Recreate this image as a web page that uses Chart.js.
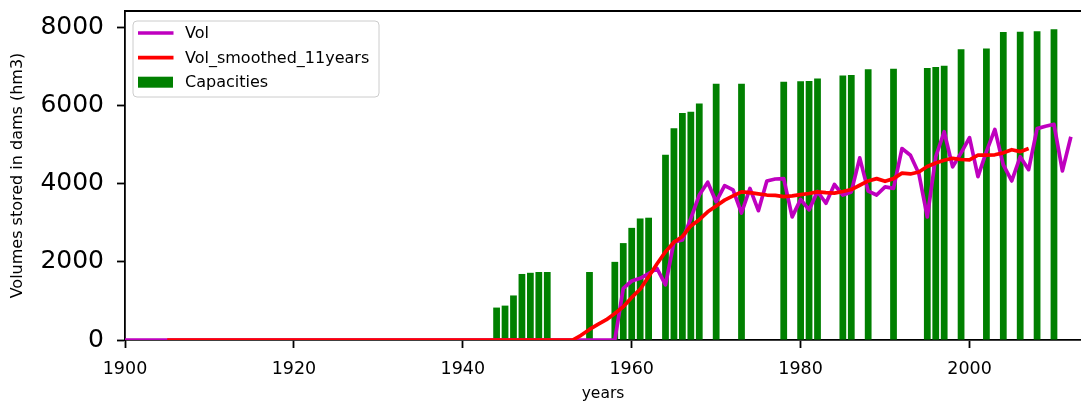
<!DOCTYPE html>
<html>
<head>
<meta charset="utf-8">
<script src="https://cdn.jsdelivr.net/npm/chart.js@4"></script>
<style>
  body { margin: 0; background: #fff; }
  canvas { display: block; }
</style>
</head>
<body>
<canvas id="chart" width="1081" height="403"></canvas>
<script>
// 数据：年份从起始年逐年排列
const volStartYear = 1900;
const volValues = [
    0, 0, 0, 0, 0, 0, 0, 0, 0, 0,
    0, 0, 0, 0, 0, 0, 0, 0, 0, 0,
    0, 0, 0, 0, 0, 0, 0, 0, 0, 0,
    0, 0, 0, 0, 0, 0, 0, 0, 0, 0,
    0, 0, 0, 0, 0, 0, 0, 0, 0, 0,
    0, 0, 0, 0, 0, 0, 0, 0, 0,
    1320, 1510, 1580, 1700, 1830, 1410, 2510, 2560, 3110, 3710,
    4040, 3540, 3950, 3840, 3250, 3880, 3310, 4070, 4120, 4130,
    3150, 3600, 3330, 3800, 3500, 3980, 3710, 3790, 4660, 3810,
    3710, 3920, 3880, 4900, 4730, 4260, 3150, 4690, 5330, 4430,
    4790, 5180, 4180, 4820, 5390, 4480, 4070, 4690, 4360, 5410,
    5470, 5520, 4330, 5200
];

const smoothStartYear = 1905;
const smoothValues = [
    0, 0, 0, 0, 0, 0, 0, 0, 0, 0,
    0, 0, 0, 0, 0, 0, 0, 0, 0, 0,
    0, 0, 0, 0, 0, 0, 0, 0, 0, 0,
    0, 0, 0, 0, 0, 0, 0, 0, 0, 0,
    0, 0, 0, 0, 0, 0, 0, 0, 0,
    120, 270, 400, 520, 680, 850, 1090, 1300, 1620, 1950,
    2260, 2500, 2650, 2920, 3080, 3280, 3430, 3580, 3690, 3790,
    3770, 3740, 3710, 3700, 3670, 3690, 3720, 3750, 3790, 3770,
    3760, 3800, 3850, 3960, 4070, 4130, 4060, 4130, 4270, 4250,
    4300, 4440, 4530, 4600, 4650, 4620, 4610, 4730, 4730, 4740,
    4790, 4870, 4820, 4900
];

const capYears = [1944, 1945, 1946, 1947, 1948, 1949, 1950, 1955, 1958, 1959,
    1960, 1961, 1962, 1964, 1965, 1966, 1967, 1968, 1970, 1973,
    1978, 1980, 1981, 1982, 1985, 1986, 1988, 1991, 1995, 1996,
    1997, 1999, 2002, 2004, 2006, 2008, 2010];
const capValues = [830, 880, 1140, 1690, 1720, 1740, 1740, 1740, 2000, 2480,
    2870, 3110, 3130, 4740, 5420, 5810, 5840, 6050, 6560, 6560,
    6610, 6620, 6630, 6690, 6770, 6780, 6930, 6940, 6960, 6990,
    7020, 7440, 7460, 7880, 7890, 7900, 7950];

const xTicks = [1900, 1920, 1940, 1960, 1980, 2000];
const yTicks = [0, 2000, 4000, 6000, 8000];

const legendItems = [
    { label: 'Vol', color: '#bf00bf', kind: 'line' },
    { label: 'Vol_smoothed_11years', color: '#ff0000', kind: 'line' },
    { label: 'Capacities', color: '#008000', kind: 'box' }
];

const FONT = "'DejaVu Sans', sans-serif";
const LINE_W = 3.7;

// 图例画在绘图区内（左上角），外加顶部边框
const framePlugin = {
    id: 'frame',
    afterDraw(chart) {
        const { ctx, chartArea: a } = chart;
        ctx.save();
        ctx.strokeStyle = '#000';
        ctx.lineWidth = 1.8;
        ctx.beginPath();
        ctx.moveTo(a.left, a.top);
        ctx.lineTo(a.right, a.top);
        ctx.stroke();

        const bx = a.left + 8, by = a.top + 10, bw = 246, bh = 76;
        ctx.beginPath();
        ctx.roundRect(bx, by, bw, bh, 4);
        ctx.fillStyle = 'rgba(255,255,255,0.8)';
        ctx.fill();
        ctx.strokeStyle = '#cccccc';
        ctx.lineWidth = 1;
        ctx.stroke();

        ctx.font = '16px ' + FONT;
        ctx.textBaseline = 'middle';
        ctx.textAlign = 'left';
        legendItems.forEach((it, i) => {
            const cy = by + 12 + i * 24.6;
            if (it.kind === 'line') {
                ctx.strokeStyle = it.color;
                ctx.lineWidth = LINE_W;
                ctx.beginPath();
                ctx.moveTo(bx + 5, cy);
                ctx.lineTo(bx + 40.5, cy);
                ctx.stroke();
            } else {
                ctx.fillStyle = it.color;
                ctx.fillRect(bx + 5, cy - 5.5, 35, 11);
            }
            ctx.fillStyle = '#000';
            ctx.fillText(it.label, bx + 52, cy + 1);
        });
        ctx.restore();
    }
};

const ctx = document.getElementById('chart').getContext('2d');
new Chart(ctx, {
    type: 'bar',
    data: {
        datasets: [
            {
                type: 'line',
                label: 'Vol',
                data: volValues.map((v, i) => ({ x: volStartYear + i, y: v })),
                borderColor: '#bf00bf',
                borderWidth: LINE_W,
                borderJoinStyle: 'round',
                pointRadius: 0,
                tension: 0,
                order: 1
            },
            {
                type: 'line',
                label: 'Vol_smoothed_11years',
                data: smoothValues.map((v, i) => ({ x: smoothStartYear + i, y: v })),
                borderColor: '#ff0000',
                borderWidth: LINE_W,
                borderJoinStyle: 'round',
                pointRadius: 0,
                tension: 0,
                order: 0
            },
            {
                type: 'bar',
                label: 'Capacities',
                data: capYears.map((yr, i) => ({ x: yr, y: capValues[i] })),
                backgroundColor: '#008000',
                borderWidth: 0,
                barPercentage: 0.8,
                categoryPercentage: 1.0,
                order: 2
            }
        ]
    },
    options: {
        responsive: false,
        animation: false,
        devicePixelRatio: 1,
        layout: { padding: { top: 11, right: 0, bottom: 0, left: 0 } },
        plugins: {
            legend: { display: false },
            tooltip: { enabled: false }
        },
        scales: {
            x: {
                type: 'linear',
                min: 1900,
                max: 2013.2,
                offset: false,
                afterFit: s => { s.height = 63; s.paddingLeft = 0; s.paddingRight = 0; },
                afterBuildTicks: s => { s.ticks = xTicks.map(v => ({ value: v })); },
                ticks: {
                    color: '#000',
                    font: { family: FONT, size: 17.5 },
                    padding: 11,
                    maxRotation: 0,
                    callback: v => String(v)
                },
                grid: {
                    display: true,
                    offset: false,
                    drawOnChartArea: false,
                    drawTicks: true,
                    tickLength: 8,
                    tickWidth: 1.8,
                    tickColor: '#000'
                },
                border: { display: true, color: '#000', width: 1.8 },
                title: {
                    display: true,
                    text: 'years',
                    color: '#000',
                    font: { family: FONT, size: 15.5 },
                    padding: { top: 0, bottom: 0 }
                }
            },
            y: {
                type: 'linear',
                min: 0,
                max: 8420,
                afterFit: s => { s.width = 125; s.paddingTop = 0; s.paddingBottom = 0; },
                afterBuildTicks: s => { s.ticks = yTicks.map(v => ({ value: v })); },
                ticks: {
                    color: '#000',
                    font: { family: FONT, size: 25 },
                    padding: 13,
                    callback: v => String(v)
                },
                grid: {
                    display: true,
                    drawOnChartArea: false,
                    drawTicks: true,
                    tickLength: 8,
                    tickWidth: 1.8,
                    tickColor: '#000'
                },
                border: { display: true, color: '#000', width: 1.8 },
                title: {
                    display: true,
                    text: 'Volumes stored in dams (hm3)',
                    color: '#000',
                    font: { family: FONT, size: 16 },
                    padding: { top: 8, bottom: 0 }
                }
            }
        }
    },
    plugins: [framePlugin]
});
</script>
</body>
</html>
